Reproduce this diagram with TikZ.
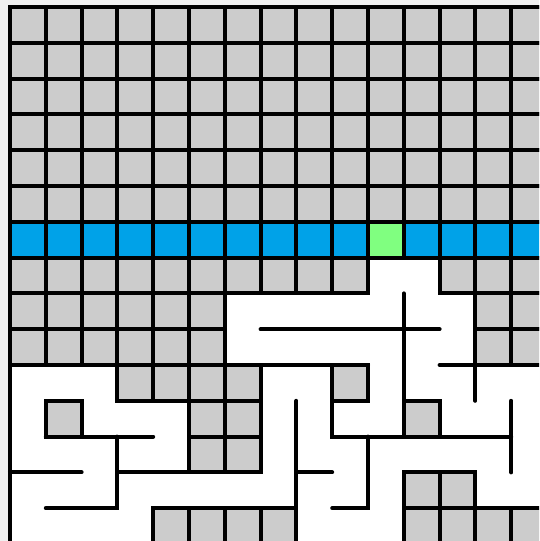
\documentclass[tikz,border=0pt]{standalone}
\usetikzlibrary{calc}
\definecolor{bggray}{HTML}{F0F0F0}
\definecolor{cellgray}{HTML}{CCCCCC}
\definecolor{rowblue}{HTML}{00A2E8}
\definecolor{goalgreen}{HTML}{80FF80}
\tikzset{
  cellbox/.style={draw=black, line width=3pt, line join=miter},
  wall/.style={draw=black, line width=3pt, line cap=round, line join=miter},
}
\begin{document}
\begin{tikzpicture}[x=26.85pt, y=-26.85pt]
  % frame (reference proportions, 539x541 px)
  \useasboundingbox (-0.2793,-0.1955) rectangle (14.7765,14.9162);
  \fill[bggray] (-0.2793,-0.1955) rectangle (14.7765,14.9162);
  \clip (-0.2793,-0.1955) rectangle (14.7765,14.9162);
  % open maze area
  \fill[white] (0,0) rectangle (15,15);
  % gray rows 0-5
  \foreach \r in {0,...,5}{
    \foreach \c in {0,...,14}{
      \filldraw[cellbox, fill=cellgray] (\c,\r) rectangle ++(1,1);
    }
  }
  % blue row 6 with green cell
  \foreach \c in {0,...,9,11,12,13,14}{
    \filldraw[cellbox, fill=rowblue] (\c,6) rectangle ++(1,1);
  }
  \filldraw[cellbox, fill=goalgreen] (10,6) rectangle ++(1,1);
  % remaining gray cells (column/row)
  \foreach \c/\r in {0/7,1/7,2/7,3/7,4/7,5/7,6/7,7/7,8/7,9/7,12/7,13/7,14/7,
                     0/8,1/8,2/8,3/8,4/8,5/8,13/8,14/8,
                     0/9,1/9,2/9,3/9,4/9,5/9,13/9,14/9,
                     3/10,4/10,5/10,6/10,9/10,
                     1/11,5/11,6/11,11/11,
                     5/12,6/12,
                     11/13,12/13,
                     4/14,5/14,6/14,7/14,11/14,12/14,13/14,14/14}{
    \filldraw[cellbox, fill=cellgray] (\c,\r) rectangle ++(1,1);
  }
  % outer border (left and top)
  \draw[wall] (0,15.5) -- (0,0) -- (15.5,0);
  % interior walls
  \coordinate (w1a) at (11,8);  \coordinate (w1b) at (11,11);
  \draw[wall] (w1a) -- (w1b);
  \coordinate (w2a) at (7,9);   \coordinate (w2b) at (12,9);
  \draw[wall] (w2a) -- (w2b);
  \coordinate (w3a) at (6,10);  \coordinate (w3b) at (10,10);
  \draw[wall] (w3a) -- (w3b);
  \coordinate (w4a) at (12,10); \coordinate (w4b) at (13,10); \coordinate (w4c) at (13,11);
  \draw[wall] (w4a) -- (w4b) -- (w4c);
  \coordinate (w5a) at (9,10);  \coordinate (w5b) at (9,12);  \coordinate (w5c) at (14,12);
  \draw[wall] (w5a) -- (w5b) -- (w5c);
  \coordinate (w7a) at (14,11); \coordinate (w7b) at (14,13);
  \draw[wall] (w7a) -- (w7b);
  \coordinate (w8a) at (8,11);  \coordinate (w8b) at (8,15.5);
  \draw[wall] (w8a) -- (w8b);
  \coordinate (w9a) at (8,13);  \coordinate (w9b) at (9,13);
  \draw[wall] (w9a) -- (w9b);
  \coordinate (w10a) at (10,12); \coordinate (w10b) at (10,14); \coordinate (w10c) at (9,14);
  \draw[wall] (w10a) -- (w10b) -- (w10c);
  \coordinate (w13a) at (1,12); \coordinate (w13b) at (4,12);
  \draw[wall] (w13a) -- (w13b);
  \coordinate (w14a) at (3,12); \coordinate (w14b) at (3,14); \coordinate (w14c) at (1,14);
  \draw[wall] (w14a) -- (w14b) -- (w14c);
  \coordinate (w16a) at (0,13); \coordinate (w16b) at (2,13);
  \draw[wall] (w16a) -- (w16b);
  \coordinate (w17a) at (3,13); \coordinate (w17b) at (7,13);
  \draw[wall] (w17a) -- (w17b);
\end{tikzpicture}
\end{document}
